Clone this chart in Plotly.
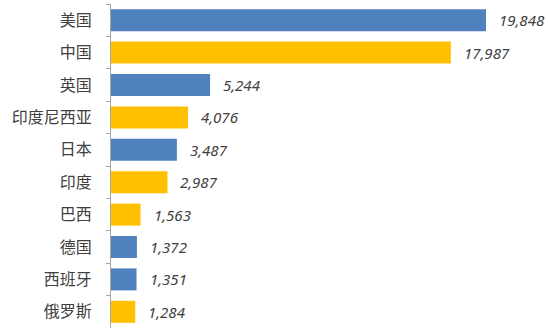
import plotly.graph_objects as go

countries = ["美国", "中国", "英国", "印度尼西亚", "日本", "印度", "巴西", "德国", "西班牙", "俄罗斯"]
values = [19848, 17987, 5244, 4076, 3487, 2987, 1563, 1372, 1351, 1284]
colors = ["#4F81BD", "#FFC000", "#4F81BD", "#FFC000", "#4F81BD", "#FFC000", "#FFC000", "#4F81BD", "#4F81BD", "#FFC000"]

fig = go.Figure(go.Bar(
    y=countries, x=values, orientation="h",
    marker=dict(color=colors, line=dict(width=0)),
    hoverinfo="skip",
))

for c, v in zip(countries, values):
    fig.add_annotation(x=v, y=c, text=f"<i>{v:,}</i>", showarrow=False,
                       xanchor="left", xshift=11,
                       font=dict(family="Noto Sans, DejaVu Sans", size=15, color="#404040"))

fig.update_layout(
    width=548, height=336,
    margin=dict(l=111, r=3, t=4, b=8),
    paper_bgcolor="white", plot_bgcolor="white",
    bargap=0.32, showlegend=False,
    xaxis=dict(range=[0, 22970], visible=False),
    yaxis=dict(autorange="reversed", showline=True, linecolor="#A6A6A6", linewidth=1,
               ticks="outside", ticklen=4, tickcolor="#A6A6A6", tickson="boundaries",
               ticklabelstandoff=15, showgrid=False,
               tickfont=dict(family="Noto Sans CJK SC", size=16, color="#404040")),
)

fig.write_html("out.html")
